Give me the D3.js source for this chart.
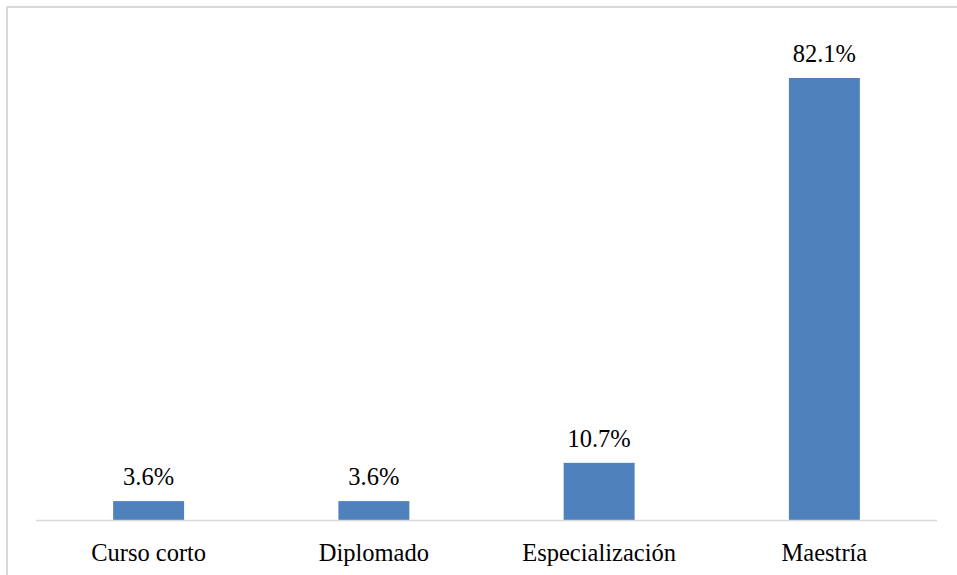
<!DOCTYPE html>
<html><head><meta charset="utf-8">
<script src="https://cdn.jsdelivr.net/npm/d3@7"></script>
<style>body{margin:0;background:#fff}svg{display:block}</style>
</head><body>
<script>
const categories = ["Curso corto", "Diplomado", "Especialización", "Maestría"];
const values = [3.6, 3.6, 10.7, 82.1];
const valueLabels = ["3.6%", "3.6%", "10.7%", "82.1%"];

const W = 957, H = 575;
const svg = d3.select("body").append("svg").attr("width", W).attr("height", H);
svg.append("rect").attr("x", 7).attr("y", 7).attr("width", W).attr("height", H)
  .attr("fill", "#fff").attr("stroke", "#d9d9d9").attr("stroke-width", 2);

const baseY = 520.5;
const x = d3.scaleBand().domain(categories).range([36, 937]).paddingInner(0.685).paddingOuter(0.3425);
const y = d3.scaleLinear().domain([0, 90]).range([baseY, baseY - 90 * 442.5 / 82.1]);

const font = "'Liberation Serif', serif";
svg.selectAll("rect.bar").data(values).enter().append("rect").attr("class", "bar")
  .attr("x", (d, i) => x(categories[i])).attr("width", x.bandwidth())
  .attr("y", d => y(d)).attr("height", d => y(0) - y(d)).attr("fill", "#4f81bd");

svg.append("line").attr("x1", 36).attr("x2", 937).attr("y1", baseY).attr("y2", baseY)
  .attr("stroke", "#d9d9d9").attr("stroke-width", 1.5);

svg.selectAll("text.val").data(values).enter().append("text").attr("class", "val")
  .attr("x", (d, i) => x(categories[i]) + x.bandwidth() / 2).attr("y", d => y(d) - 16)
  .attr("text-anchor", "middle").attr("font-family", font).attr("font-size", 24.5).attr("fill", "#000")
  .text((d, i) => valueLabels[i]);

svg.selectAll("text.cat").data(categories).enter().append("text").attr("class", "cat")
  .attr("x", d => x(d) + x.bandwidth() / 2).attr("y", 561)
  .attr("text-anchor", "middle").attr("font-family", font).attr("font-size", 24.5).attr("fill", "#000")
  .text(d => d);
</script>
</body></html>
